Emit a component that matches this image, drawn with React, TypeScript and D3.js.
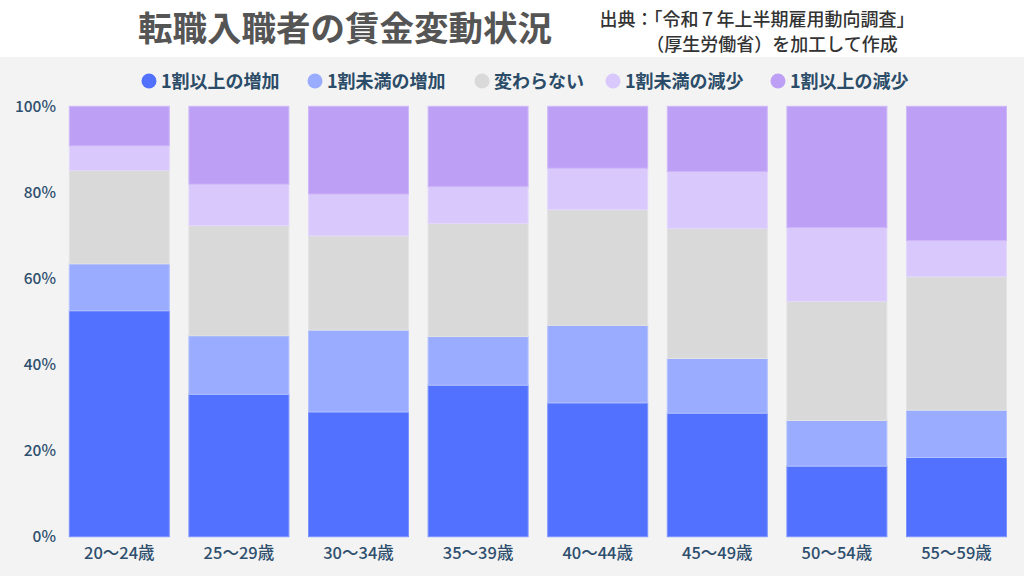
import React from "react";
import * as d3 from "d3";

const categories = ["20〜24歳", "25〜29歳", "30〜34歳", "35〜39歳", "40〜44歳", "45〜49歳", "50〜54歳", "55〜59歳"];
const seriesNames = ["1割以上の増加", "1割未満の増加", "変わらない", "1割未満の減少", "1割以上の減少"];
const incLarge = [52.5, 33.1, 29.0, 35.2, 31.1, 28.7, 16.4, 18.4];
const incSmall = [10.9, 13.6, 19.0, 11.3, 18.0, 12.7, 10.6, 11.0];
const noChange = [21.7, 25.6, 21.9, 26.3, 26.9, 30.2, 27.7, 31.0];
const decSmall = [5.7, 9.6, 9.7, 8.5, 9.6, 13.2, 17.1, 8.4];
const decLarge = [9.2, 18.1, 20.4, 18.7, 14.4, 15.2, 28.2, 31.2];
const yTicks = [0, 20, 40, 60, 80, 100];
const colors = ["#5271FF", "#99ACFF", "#D9D9D9", "#D9C8FB", "#BDA0F5"];
const strokes = ["#7C93FF", "#B3C1FF", "#E3E3E3", "#E3D7FC", "#CFB8F8"];

const W = 1024;
const H = 576;
const FONT = "'Noto Sans CJK JP', 'Noto Sans', sans-serif";

export default function App() {
  const series = [incLarge, incSmall, noChange, decSmall, decLarge];
  const rows = categories.map((c, i) => {
    const r: any = { cat: c };
    seriesNames.forEach((s, k) => (r[s] = series[k][i]));
    return r;
  });
  const stacked = d3.stack().keys(seriesNames).offset(d3.stackOffsetExpand)(rows);

  const x = d3.scaleBand().domain(categories).range([59.5, 1016.3]).paddingInner(0.164).paddingOuter(0.082);
  const y = d3.scaleLinear().domain([0, 1]).range([536.7, 106.3]);

  const legendX = [149, 315, 482, 613, 778];

  return (
    <svg width={W} height={H} style={{ position: "absolute", left: 0, top: 0, display: "block" }} fontFamily={FONT}>
      <rect x={0} y={0} width={W} height={H} fill="#FFFFFF" />
      <rect x={0} y={57} width={W} height={H - 57} fill="#F3F3F3" />
      <text x={345} y={41} textAnchor="middle" fontSize={34.5} fontWeight={700} fill="#555555">
        転職入職者の賃金変動状況
      </text>
      <text x={757} y={26} textAnchor="middle" fontSize={18} fontWeight={500} fill="#333333">
        出典：「令和７年上半期雇用動向調査」
      </text>
      <text x={772} y={51} textAnchor="middle" fontSize={18} fontWeight={500} fill="#333333">
        （厚生労働省）を加工して作成
      </text>
      {seriesNames.map((s, k) => (
        <g key={s}>
          <circle cx={legendX[k]} cy={81} r={7.5} fill={colors[k]} />
          <text x={legendX[k] + 12} y={87.5} fontSize={18} fontWeight={700} fill="#2B4C68">
            {s}
          </text>
        </g>
      ))}
      {yTicks.map((t) => (
        <text key={t} x={56} y={y(t / 100) + 5.5} textAnchor="end" fontSize={15.5} fontWeight={500} fill="#2E4F6E">
          {t}%
        </text>
      ))}
      {stacked.map((layer, k) => (
        <g key={layer.key}>
          {layer.map((d, i) => (
            <rect
              key={i}
              x={x(categories[i])!}
              y={y(d[1])}
              width={x.bandwidth()}
              height={y(d[0]) - y(d[1])}
              fill={colors[k]}
              stroke={strokes[k]}
              strokeWidth={1}
            />
          ))}
        </g>
      ))}
      {categories.map((c) => (
        <text key={c} x={x(c)! + x.bandwidth() / 2} y={559} textAnchor="middle" fontSize={16.5} fontWeight={500} fill="#2E4F6E">
          {c}
        </text>
      ))}
    </svg>
  );
}
